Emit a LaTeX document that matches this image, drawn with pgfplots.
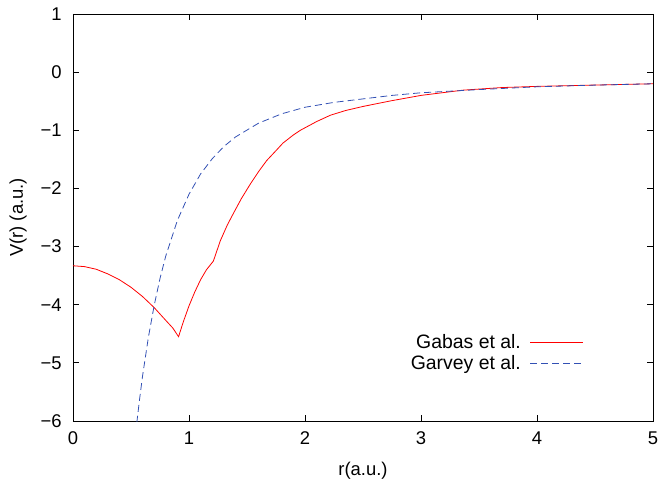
\documentclass[border=0pt]{standalone}
\usepackage{pgfplots}
\pgfplotsset{compat=1.18}
\usepackage{fontspec}
\setmainfont{Liberation Sans}
\definecolor{gred}{rgb}{1,0,0}
\definecolor{gblue}{RGB}{50,80,180}
\begin{document}
\fontsize{18.5}{22}\selectfont
\begin{tikzpicture}
\useasboundingbox (-73bp,-64bp) rectangle (586bp,421bp);
\begin{axis}[
  at={(0,0)}, anchor=south west,
  scale only axis, width=580bp, height=407bp,
  xmin=0, xmax=5, ymin=-6, ymax=1,
  xtick={0,1,2,3,4,5}, ytick={-6,-5,-4,-3,-2,-1,0,1},
  yticklabels={−6,−5,−4,−3,−2,−1,0,1},
  tick align=inside, major tick length=6bp,
  tick style={black, line width=0.8pt},
  axis line style={line width=0.9pt},
  /pgf/number format/assume math mode=true,
  ticklabel style={font=\fontsize{18.5}{22}\selectfont},
  xticklabel style={yshift=-4bp},
  yticklabel style={xshift=-5bp},
  xlabel={r(a.u.)}, ylabel={V(r) (a.u.)},
  every axis x label/.style={at={(axis description cs:0.5,-0.123)}, anchor=center},
  every axis y label/.style={at={(axis description cs:-0.0948,0.5)}, rotate=90, anchor=center},
  legend style={draw=none, fill=none, at={(0.886,0.167)}, anchor=east, font=\fontsize{19.5}{21}\selectfont, row sep=0bp},
  legend cell align=right,
  legend plot pos=right,
  legend image code/.code={\path (0bp,0bp); \draw[#1] (7bp,0bp) -- (60bp,0bp);},
]
\addplot[gred, line width=0.8pt] coordinates {
(0,-3.33) (0.1,-3.345) (0.2,-3.39) (0.3,-3.47) (0.4,-3.57) (0.5,-3.70) (0.6,-3.86) (0.7,-4.05) (0.8,-4.27) (0.86,-4.40) (0.91,-4.55)
(0.95,-4.30) (1.0,-4.02) (1.05,-3.78) (1.1,-3.57) (1.15,-3.40) (1.21,-3.25)
(1.27,-2.90) (1.33,-2.63) (1.38,-2.44) (1.45,-2.18) (1.53,-1.92) (1.6,-1.71) (1.67,-1.52) (1.75,-1.35) (1.81,-1.22) (1.9,-1.08) (1.96,-1.0) (2.1,-0.85) (2.22,-0.74) (2.35,-0.66) (2.5,-0.59) (2.75,-0.49) (3.0,-0.40) (3.36,-0.31) (3.7,-0.265) (4,-0.245) (4.5,-0.222) (5,-0.20)
};
\addlegendentry{Gabas et al.}
\addplot[gblue, line width=0.8pt, dash pattern=on 7bp off 4bp] coordinates {
(0.55,-6.03) (0.575,-5.61) (0.6,-5.22) (0.65,-4.56) (0.7,-4.01) (0.75,-3.55) (0.8,-3.16) (0.9,-2.55) (1.0,-2.10) (1.1,-1.75) (1.2,-1.49) (1.3,-1.28) (1.4,-1.116) (1.6,-0.877) (1.8,-0.716) (2.0,-0.604) (2.25,-0.52) (2.5,-0.46) (2.75,-0.40) (3.0,-0.355) (3.5,-0.30) (4,-0.252) (4.5,-0.223) (5,-0.20)
};
\addlegendentry{Garvey et al.}
\end{axis}
\end{tikzpicture}
\end{document}
